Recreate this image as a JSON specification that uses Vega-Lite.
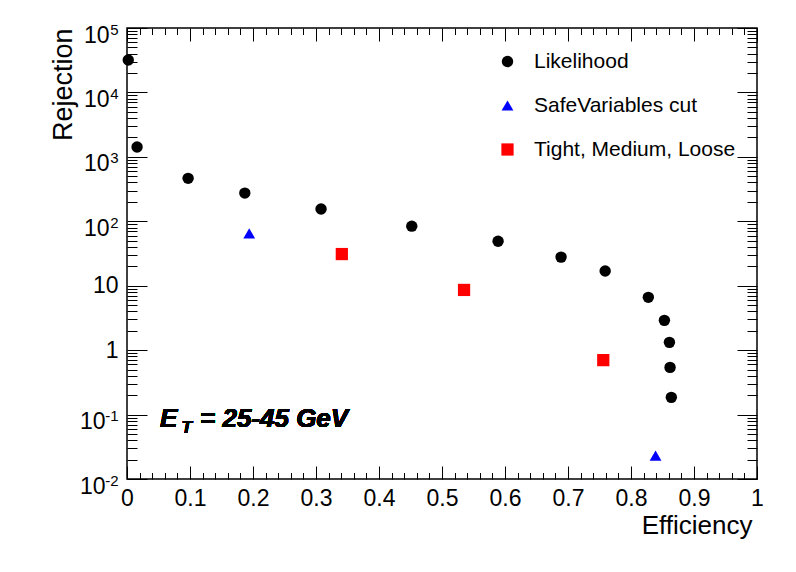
{
  "$schema": "https://vega.github.io/schema/vega-lite/v6.json",
  "width": 630,
  "height": 451,
  "autosize": {"type": "none"},
  "padding": {"left": 127, "top": 28, "right": 39, "bottom": 93},
  "background": "white",
  "config": {
    "view": {"stroke": "black", "strokeWidth": 1.5},
    "font": "Liberation Sans",
    "axis": {"grid": false, "domain": false, "tickColor": "black", "tickWidth": 1, "labelColor": "black", "titleColor": "black", "labelFont": "Liberation Sans", "titleFont": "Liberation Sans", "titleFontWeight": "normal", "labelFlush": false, "labelOverlap": false}
  },
  "data": {"values": [
    {"series": "Likelihood", "efficiency": 0.002, "rejection": 31800},
    {"series": "Likelihood", "efficiency": 0.016, "rejection": 1420},
    {"series": "Likelihood", "efficiency": 0.097, "rejection": 464},
    {"series": "Likelihood", "efficiency": 0.187, "rejection": 274},
    {"series": "Likelihood", "efficiency": 0.308, "rejection": 155},
    {"series": "Likelihood", "efficiency": 0.452, "rejection": 84},
    {"series": "Likelihood", "efficiency": 0.589, "rejection": 49},
    {"series": "Likelihood", "efficiency": 0.689, "rejection": 27.8},
    {"series": "Likelihood", "efficiency": 0.759, "rejection": 16.9},
    {"series": "Likelihood", "efficiency": 0.8275, "rejection": 6.6},
    {"series": "Likelihood", "efficiency": 0.853, "rejection": 2.9},
    {"series": "Likelihood", "efficiency": 0.861, "rejection": 1.32},
    {"series": "Likelihood", "efficiency": 0.862, "rejection": 0.54},
    {"series": "Likelihood", "efficiency": 0.864, "rejection": 0.185},
    {"series": "SafeVariables cut", "efficiency": 0.194, "rejection": 65},
    {"series": "SafeVariables cut", "efficiency": 0.839, "rejection": 0.023},
    {"series": "Tight, Medium, Loose", "efficiency": 0.341, "rejection": 31},
    {"series": "Tight, Medium, Loose", "efficiency": 0.535, "rejection": 8.6},
    {"series": "Tight, Medium, Loose", "efficiency": 0.756, "rejection": 0.7}
  ]},
  "resolve": {"axis": {"x": "independent", "y": "independent"}},
  "layer": [
    {
      "mark": {"type": "point", "opacity": 0},
      "encoding": {
        "x": {"field": "efficiency", "type": "quantitative", "scale": {"domain": [0, 1], "nice": false, "zero": false},
          "axis": {"orient": "bottom", "values": [0.02,0.04,0.06,0.08,0.12,0.14,0.16,0.18,0.22,0.24,0.26,0.28,0.32,0.34,0.36,0.38,0.42,0.44,0.46,0.48,0.52,0.54,0.56,0.58,0.62,0.64,0.66,0.68,0.72,0.74,0.76,0.78,0.82,0.84,0.86,0.88,0.92,0.94,0.96,0.98], "tickSize": -6.5, "labels": false, "title": null}},
        "y": {"field": "rejection", "type": "quantitative", "scale": {"type": "log", "domain": [0.01, 100000], "nice": false},
          "axis": {"orient": "left", "values": [0.02,0.03,0.04,0.05,0.06,0.07,0.08,0.09,0.2,0.3,0.4,0.5,0.6,0.7,0.8,0.9,2,3,4,5,6,7,8,9,20,30,40,50,60,70,80,90,200,300,400,500,600,700,800,900,2000,3000,4000,5000,6000,7000,8000,9000,20000,30000,40000,50000,60000,70000,80000,90000], "tickSize": -10, "labels": false, "title": null}}
      }
    },
    {
      "mark": {"type": "point", "opacity": 0},
      "encoding": {
        "x": {"field": "efficiency", "type": "quantitative",
          "axis": {"orient": "top", "values": [0,0.1,0.2,0.3,0.4,0.5,0.6,0.7,0.8,0.9,1], "tickSize": -13, "labels": false, "title": null}},
        "y": {"field": "rejection", "type": "quantitative",
          "axis": {"orient": "right", "values": [0.01,0.1,1,10,100,1000,10000,100000], "tickSize": -20, "labels": false, "title": null}}
      }
    },
    {
      "mark": {"type": "point", "opacity": 0},
      "encoding": {
        "x": {"field": "efficiency", "type": "quantitative",
          "axis": {"orient": "top", "values": [0.02,0.04,0.06,0.08,0.12,0.14,0.16,0.18,0.22,0.24,0.26,0.28,0.32,0.34,0.36,0.38,0.42,0.44,0.46,0.48,0.52,0.54,0.56,0.58,0.62,0.64,0.66,0.68,0.72,0.74,0.76,0.78,0.82,0.84,0.86,0.88,0.92,0.94,0.96,0.98], "tickSize": -6.5, "labels": false, "title": null}},
        "y": {"field": "rejection", "type": "quantitative",
          "axis": {"orient": "right", "values": [0.02,0.03,0.04,0.05,0.06,0.07,0.08,0.09,0.2,0.3,0.4,0.5,0.6,0.7,0.8,0.9,2,3,4,5,6,7,8,9,20,30,40,50,60,70,80,90,200,300,400,500,600,700,800,900,2000,3000,4000,5000,6000,7000,8000,9000,20000,30000,40000,50000,60000,70000,80000,90000], "tickSize": -10, "labels": false, "title": null}}
      }
    },
    {
      "mark": {"type": "point", "opacity": 0},
      "encoding": {
        "x": {"field": "efficiency", "type": "quantitative", "axis": null},
        "y": {"field": "rejection", "type": "quantitative",
          "axis": {"orient": "left", "values": [0.01,0.1,100,1000,10000,100000], "ticks": false, "tickSize": 0, "labelPadding": 9, "labelFontSize": 15, "labelOffset": 1,
            "labelExpr": "datum.value >= 99999 ? '5' : datum.value >= 9999 ? '4' : datum.value >= 999 ? '3' : datum.value >= 99 ? '2' : datum.value >= 0.09 ? '-1' : '-2'",
            "title": null}}
      }
    },
    {
      "mark": {"type": "text", "text": "E", "font": "Liberation Sans", "fontSize": 26, "fontWeight": "bold", "fontStyle": "italic", "align": "left", "baseline": "alphabetic", "color": "black"},
      "encoding": {
        "x": {"datum": 0.0524, "type": "quantitative", "axis": null},
        "y": {"datum": 0.0637, "type": "quantitative", "axis": null}
      }
    },
    {
      "mark": {"type": "text", "text": "T", "font": "Liberation Sans", "fontSize": 17, "fontWeight": "bold", "fontStyle": "italic", "align": "left", "baseline": "alphabetic", "color": "black"},
      "encoding": {
        "x": {"datum": 0.0865, "type": "quantitative", "axis": null},
        "y": {"datum": 0.0525, "type": "quantitative", "axis": null}
      }
    },
    {
      "mark": {"type": "text", "text": "= 25-45 GeV", "font": "Liberation Sans", "fontSize": 26, "fontWeight": "bold", "fontStyle": "italic", "align": "left", "baseline": "alphabetic", "color": "black"},
      "encoding": {
        "x": {"datum": 0.1159, "type": "quantitative", "axis": null},
        "y": {"datum": 0.0637, "type": "quantitative", "axis": null}
      }
    },
    {
      "mark": {"type": "point", "filled": true, "opacity": 1},
      "encoding": {
        "x": {"field": "efficiency", "type": "quantitative",
          "axis": {"orient": "bottom", "values": [0,0.1,0.2,0.3,0.4,0.5,0.6,0.7,0.8,0.9,1], "tickSize": -13, "labelPadding": 21, "labelFontSize": 23, "format": ".1~f", "title": "Efficiency", "titleFontSize": 26, "titleAlign": "right", "titleAnchor": "end", "titleX": 625, "titleY": 54, "titleBaseline": "alphabetic"}},
        "y": {"field": "rejection", "type": "quantitative",
          "axis": {"orient": "left", "values": [0.01,0.1,1,10,100,1000,10000,100000], "tickSize": -20, "labelFontSize": 23,
            "labelExpr": "datum.value >= 0.9 && datum.value <= 1.1 ? '1' : '10'",
            "labelPadding": {"condition": [{"test": "datum.value < 0.5", "value": 42}, {"test": "datum.value > 11", "value": 38}], "value": 29},
            "labelOffset": {"condition": {"test": "datum.value > 11 || datum.value < 0.5", "value": 7}, "value": 0},
            "title": "Rejection", "titleFontSize": 27, "titleAngle": -90, "titleAlign": "right", "titleAnchor": "end", "titleBaseline": "alphabetic", "titleX": -56, "titleY": 0}},
        "color": {"field": "series", "type": "nominal", "scale": {"domain": ["Likelihood", "SafeVariables cut", "Tight, Medium, Loose"], "range": ["#000000", "#0000ff", "#ff0000"]},
          "legend": {"orient": "none", "legendX": 370, "legendY": 23, "title": null, "labelFontSize": 21, "labelFont": "Liberation Sans", "labelColor": "black", "labelOffset": 16, "rowPadding": 22, "padding": 0, "labelLimit": 400}},
        "shape": {"field": "series", "type": "nominal", "scale": {"domain": ["Likelihood", "SafeVariables cut", "Tight, Medium, Loose"], "range": ["circle", "triangle-up", "square"]},
          "legend": {"orient": "none", "legendX": 370, "legendY": 23, "title": null, "labelFontSize": 21, "labelFont": "Liberation Sans", "labelColor": "black", "labelOffset": 16, "rowPadding": 22, "padding": 0, "labelLimit": 400}},
        "size": {"field": "series", "type": "nominal", "scale": {"domain": ["Likelihood", "SafeVariables cut", "Tight, Medium, Loose"], "range": [130, 150, 160]},
          "legend": {"orient": "none", "legendX": 370, "legendY": 23, "title": null, "labelFontSize": 21, "labelFont": "Liberation Sans", "labelColor": "black", "labelOffset": 16, "rowPadding": 22, "padding": 0, "labelLimit": 400}}
      }
    }
  ]
}
